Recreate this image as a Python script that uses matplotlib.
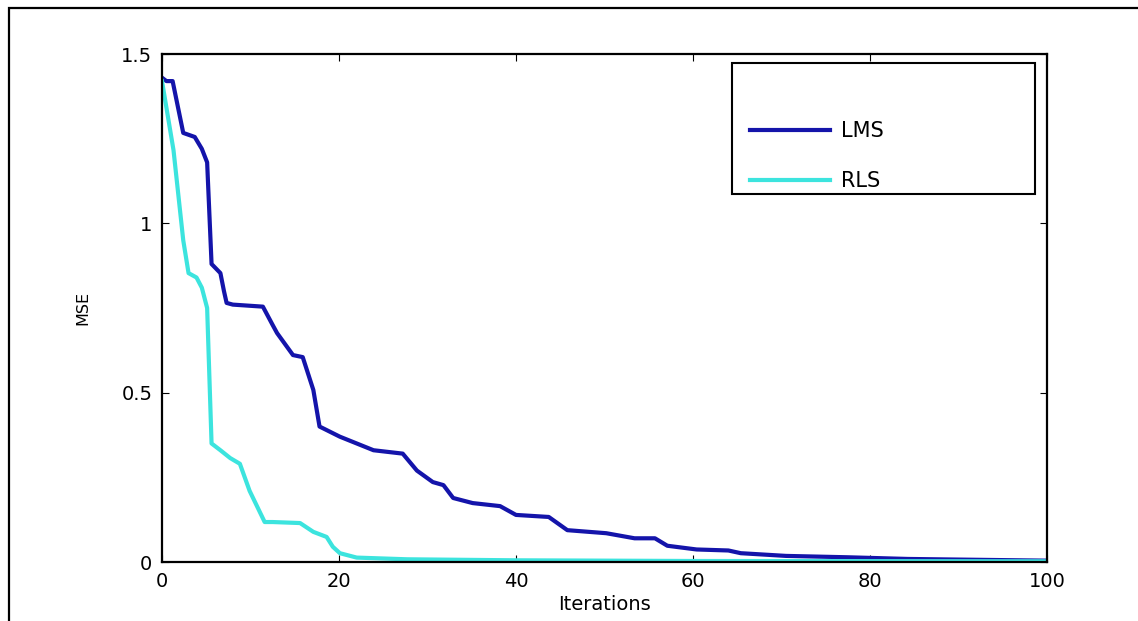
import matplotlib
matplotlib.use("Agg")
import matplotlib.pyplot as plt
from matplotlib.lines import Line2D
from matplotlib.patches import Rectangle

plt.rcParams['font.family'] = ['DejaVu Sans']

# LMS curve (iteration, MSE)
lms_x = [0, 0.5, 1.2, 2.4, 3.7, 4.5, 5.1, 5.6, 6.6, 7.0, 7.3, 8.0, 11.4, 12.5, 13.0, 14.8, 15.9, 17.1, 17.8,
         20.1, 23.9, 27.2, 28.8, 30.6, 31.8, 32.9, 35.1, 38.2, 40.0, 43.7, 45.8, 50.2, 53.4, 55.7, 57.1,
         60.4, 64.0, 65.4, 70.5, 77.4, 84.3, 100]
lms_y = [1.43, 1.42, 1.42, 1.267, 1.255, 1.22, 1.18, 0.88, 0.853, 0.80, 0.765, 0.76, 0.754, 0.70, 0.676,
         0.611, 0.605, 0.508, 0.40, 0.37, 0.33, 0.32, 0.27, 0.236, 0.227, 0.189, 0.174, 0.165, 0.139,
         0.133, 0.094, 0.085, 0.07, 0.07, 0.048, 0.037, 0.034, 0.026, 0.018, 0.014, 0.009, 0.004]

# RLS curve (iteration, MSE)
rls_x = [0, 1.3, 2.4, 3.0, 3.9, 4.5, 5.1, 5.6, 6.6, 7.7, 8.8, 9.9, 11.6, 12.5, 15.6, 17.1, 18.6, 19.3,
         20.1, 22.0, 27.7, 40, 60, 100]
rls_y = [1.42, 1.216, 0.95, 0.853, 0.84, 0.81, 0.75, 0.35, 0.33, 0.307, 0.29, 0.21, 0.118, 0.118, 0.115,
         0.089, 0.074, 0.045, 0.026, 0.013, 0.008, 0.005, 0.003, 0.002]

series_labels = ["LMS", "RLS"]
series_colors = ["#1414AA", "#3CE4DE"]

x_ticks = [0, 20, 40, 60, 80, 100]
y_ticks = [0, 0.5, 1, 1.5]
y_tick_labels = ["0", "0.5", "1", "1.5"]

W, H = 1138, 621
fig = plt.figure(figsize=(W / 100, H / 100), dpi=100)
fig.patch.set_facecolor("white")

# outer frame
fig.patches.append(Rectangle((9 / W, -0.1), 1.2, 1 - 8 / H + 0.1, transform=fig.transFigure,
                             fill=False, edgecolor="black", linewidth=1.6))

ax = fig.add_axes([162 / W, 1 - 562 / H, (1047 - 162) / W, (562 - 54) / H])
ax.plot(lms_x, lms_y, color=series_colors[0], linewidth=3.0, solid_joinstyle="round")
ax.plot(rls_x, rls_y, color=series_colors[1], linewidth=3.0, solid_joinstyle="round")

ax.set_xlim(0, 100)
ax.set_ylim(0, 1.5)
ax.set_xticks(x_ticks)
ax.set_yticks(y_ticks)
ax.set_yticklabels(y_tick_labels)
ax.tick_params(direction="in", length=5, width=0.8, top=True, right=True, labelsize=14, pad=7)
for s in ax.spines.values():
    s.set_linewidth(1.6)

ax.set_xlabel("Iterations", fontsize=14, labelpad=3)
ax.set_ylabel("MSE", fontsize=11.5, labelpad=22)

# legend box
ax.add_patch(Rectangle((0.644, 0.7244), 0.342, 0.258, transform=ax.transAxes, fill=False,
                       edgecolor="black", linewidth=1.5, zorder=5))
handles = [Line2D([], [], color=series_colors[0], linewidth=3.0),
           Line2D([], [], color=series_colors[1], linewidth=3.0)]
leg = ax.legend(handles, series_labels, loc="upper left",
                bbox_to_anchor=(0.6644, 0.868), frameon=False,
                fontsize=15, handlelength=3.85, handletextpad=0.5, labelspacing=1.45,
                borderpad=0, borderaxespad=0)

fig.savefig("out.png", dpi=100)
